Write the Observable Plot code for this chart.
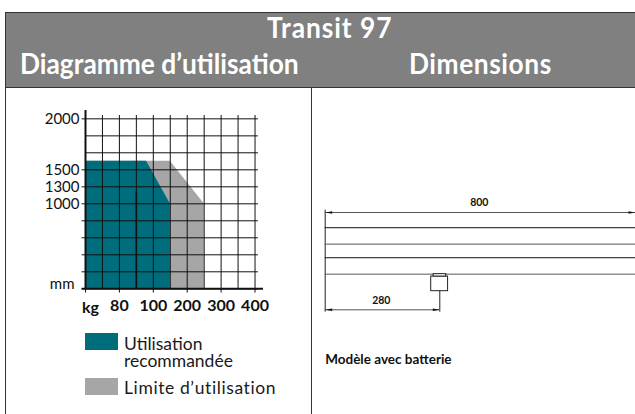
<!DOCTYPE html>
<html lang="fr"><head><meta charset="utf-8">
<script src="https://cdn.jsdelivr.net/npm/d3@7"></script>
<script src="https://cdn.jsdelivr.net/npm/@observablehq/plot@0.6"></script>
<style>
html,body{margin:0;padding:0;background:#fff}
#page{position:relative;width:635px;height:414px;overflow:hidden;font-family:Lato,sans-serif;color:#1a1a1a}
#head{position:absolute;left:5px;top:12px;width:630px;height:76px;background:#808080;border-top:1px solid #333;border-left:1px solid #333;border-bottom:1px solid #333;box-sizing:border-box;color:#fff;font-weight:700;font-size:28px}
#head div{position:absolute;white-space:nowrap;transform:scaleX(.94);transform-origin:0 0;line-height:34px}
.pl{position:absolute;top:88px;height:326px}
.pl svg{max-width:none}
.leg{position:absolute;white-space:nowrap;font-size:17.5px;line-height:17px}
.sw{position:absolute;left:85px;width:33px;height:17px}
#vl{position:absolute;left:5px;top:87px;width:305px;height:327px;border-left:1px solid #333;border-right:1px solid #333}
</style></head><body>
<div id="page">
  <div id="head">
    <div style="left:261px;top:-3px;letter-spacing:1px">Transit 97</div>
    <div style="left:14px;top:33px">Diagramme d’utilisation</div>
    <div style="left:403px;top:33px;letter-spacing:.6px">Dimensions</div>
  </div>
  <div id="vl"></div>
  <div class="pl" id="left" style="left:0;width:311px"></div>
  <div class="pl" id="right" style="left:311px;width:324px"></div>
  <div class="sw" style="top:333px;background:#006d7d"></div>
  <div class="sw" style="top:378px;background:#a6a6a6"></div>
  <div class="leg" style="left:124px;top:335px">Utilisation</div>
  <div class="leg" style="left:124px;top:352px">recommandée</div>
  <div class="leg" style="left:124px;top:379px;letter-spacing:.6px">Limite d’utilisation</div>
</div>
<script>
// usage diagram (capacity kg, lift height mm)
const kgStops = [0, 80, 100, 200, 300, 400, 425];
const kgSteps = [0, 2, 4, 6, 8, 10, 10.5];
const mmStops = [0, 1000, 1300, 1500, 2000, 2081];
const mmSteps = [0, 5, 6, 7, 10, 10.49];
const kgTicks = [0, 80, 100, 200, 300, 400];
const kgGrid = [0, 40, 80, 90, 100, 150, 200, 250, 300, 350, 400];
const mmTicks = [1000, 1300, 1500, 2000];
const mmMinor = [0, 200, 400, 600, 800];
const mmGrid = [0, 200, 400, 600, 800, 1000, 1300, 1500, 1667, 1833, 2000];
const recommendedKg = [0, 96, 150];
const recommendedMm = [1585, 1585, 1000];
const limitKg = [0, 150, 250];
const limitMm = [1585, 1585, 1000];
const mastKg = [90];
const mastMm = 1212;
const teal = "#006d7d", grey = "#a6a6a6", ink = "#111";

const X = d3.scaleLinear(kgStops, kgSteps);
const Y = d3.scaleLinear(mmStops, mmSteps);
const pts = (a, b) => a.map((x, i) => ({x: X(x), y: Y(b[i])}));

const left = Plot.plot({
  width: 311, height: 326, margin: 0,
  style: {background: "transparent", color: ink, fontFamily: "Lato,sans-serif"},
  x: {domain: [0, 10.5], range: [85, 263], axis: null},
  y: {domain: [0, 10.49], range: [200.3, 22], axis: null},
  marks: [
    Plot.areaY(pts(limitKg, limitMm), {x: "x", y1: () => 0, y2: "y", fill: grey}),
    Plot.areaY(pts(recommendedKg, recommendedMm), {x: "x", y1: () => 0, y2: "y", fill: teal}),
    Plot.ruleX(kgGrid, {x: X, y1: Y(0), y2: Y(2032), stroke: ink, strokeWidth: 1}),
    Plot.ruleY(mmGrid, {y: Y, x1: X(0), x2: X(410), stroke: ink, strokeWidth: 1}),
    Plot.ruleX(mastKg, {x: X, y1: Y(0), y2: Y(mastMm), stroke: ink, strokeWidth: 1.6}),
    Plot.ruleX([0], {x: X, y1: Y(0), y2: Y(2081), stroke: ink, strokeWidth: 2}),
    Plot.ruleY([0], {y: Y, x1: X(-8), x2: X(425), stroke: ink, strokeWidth: 2}),
    Plot.ruleX(kgTicks, {x: X, y1: Y(0), y2: Y(-50), stroke: ink}),
    Plot.text(kgTicks.slice(1), {x: X, y: () => Y(0), dy: 17, text: d => String(d), fontSize: 16, fontWeight: 700, fill: ink}),
    Plot.text(mmTicks, {x: () => X(0), y: Y, dx: -6, text: d => String(d), textAnchor: "end", fontSize: 15, fill: ink}),
    Plot.ruleY(mmTicks.concat(mmMinor), {y: Y, x1: X(-8), x2: X(0), stroke: ink}),
    Plot.text(["mm"], {x: () => X(0), y: () => Y(0), dx: -11, dy: -5, textAnchor: "end", fontSize: 15, fill: ink}),
    Plot.text(["kg"], {x: () => X(0), y: () => Y(0), dx: 5, dy: 19, textAnchor: "middle", fontSize: 16, fontWeight: 700, fill: ink})
  ]
});
document.getElementById("left").append(left);

// dimensions drawing (mm, schematic)
const lengthStops = [0, 280, 800];
const lengthDraw = [0, 114.6, 310.3];
const blackLevel = [41, 116];
const greyLevel = [0, 75];
const dimLevel = 154, dim280Level = -89, footLevel = -95, extTop = 160;
const lengthToDraw = d3.scaleLinear(lengthStops, lengthDraw);

const arrowLeft = {draw(c) { c.moveTo(-3.5, 0); c.lineTo(3.5, -1.2); c.lineTo(3.5, 1.2); c.closePath(); }};
const arrowRight = {draw(c) { c.moveTo(3.5, 0); c.lineTo(-3.5, -1.2); c.lineTo(-3.5, 1.2); c.closePath(); }};

const right = Plot.plot({
  width: 324, height: 326, margin: 0,
  style: {background: "transparent", color: ink, fontFamily: "Lato,sans-serif"},
  x: {transform: lengthToDraw, domain: [0, 310.3], range: [13.7, 324], axis: null},
  y: {domain: [-95, 154], range: [223.7, 124], axis: null},
  marks: [
    Plot.ruleX([0], {y1: footLevel, y2: extTop, stroke: "#222", strokeWidth: 1}),
    Plot.ruleY(blackLevel, {x1: 0, x2: 800, stroke: "#111", strokeWidth: 1}),
    Plot.ruleY(greyLevel, {x1: 0, x2: 800, stroke: "#555", strokeWidth: 1}),
    Plot.ruleY([dimLevel], {x1: 0, x2: 800, stroke: "#555", strokeWidth: 1}),
    Plot.ruleY([dim280Level], {x1: 0, x2: 280, stroke: "#555", strokeWidth: 1}),
    Plot.ruleX([280], {y1: footLevel, y2: -42.5, stroke: "#222", strokeWidth: 1}),
    Plot.rect([{}], {x1: () => 259, x2: () => 302, y1: () => -42.5, y2: () => -6, stroke: "#222", fill: "#fff"}),
    Plot.rect([{}], {x1: () => 265, x2: () => 297, y1: () => -6, y2: () => 0, stroke: "#222", fill: "#fff"}),
    Plot.dot([{x: 0, y: dimLevel}, {x: 0, y: dim280Level}], {x: "x", y: "y", symbol: arrowLeft, dx: 3.5, fill: "#111", r: 3}),
    Plot.dot([{x: 800, y: dimLevel}, {x: 280, y: dim280Level}], {x: "x", y: "y", symbol: arrowRight, dx: -3.5, fill: "#111", r: 3}),
    Plot.text(["800"], {x: () => 385, y: () => dimLevel, dy: -10, fontSize: 10.5, fontWeight: 700, fill: "#111"}),
    Plot.text(["280"], {x: () => 137, y: () => dim280Level, dy: -9, fontSize: 10.5, fontWeight: 700, fill: "#111"}),
    Plot.text(["Modèle avec batterie"], {x: () => 0, y: () => -95, dy: 47, textAnchor: "start", fontSize: 13.5, fontWeight: 700, fill: "#111"})
  ]
});
document.getElementById("right").append(right);
</script>
</body></html>
